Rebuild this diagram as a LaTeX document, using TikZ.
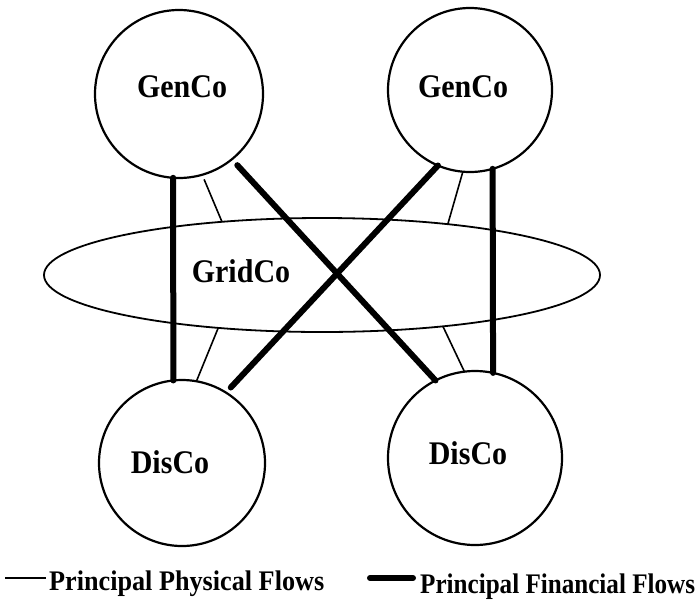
\documentclass[tikz,border=0pt]{standalone}
\usepackage{fontspec}
\setmainfont{Liberation Serif}
\usetikzlibrary{shapes.geometric}
% tall bold lettering used for all labels
\newcommand{\tallword}[2][1.1]{\scalebox{1}[#1]{#2}}
\begin{document}
\begin{tikzpicture}[x=1pt,y=-1pt,
  company/.style={circle, draw, line width=2.2pt, inner sep=0pt, outer sep=0pt},
  lbl/.style={font=\fontsize{30}{36}\selectfont\bfseries, inner sep=0pt},
  fin/.style={line width=6pt, line cap=round},
  phys/.style={line width=1.6pt},
  legend/.style={font=\fontsize{27}{30}\selectfont\bfseries, inner sep=0pt, anchor=base west}]
\useasboundingbox (0,0) rectangle (700,600);

% transmission company
\node[ellipse, draw, line width=1.8pt, minimum width=556pt, minimum height=114pt,
      inner sep=0pt, outer sep=0pt] (grid) at (322,275) {};

% generators and distributors
\node[company, minimum size=168pt] (g1) at (179,94) {};
\node[company, minimum size=164pt] (g2) at (470,90) {};
\node[company, minimum size=166pt] (d1) at (182,463) {};
\node[company, minimum size=174pt] (d2) at (475,458) {};

\node[lbl] (g1t) at (182,87) {\tallword{GenCo}};
\node[lbl] (g2t) at (463,87) {\tallword{GenCo}};
\node[lbl] (gridt) at (241,271) {\tallword{GridCo}};
\node[lbl] (d1t) at (170,462) {\tallword{DisCo}};
\node[lbl] (d2t) at (468,453) {\tallword{DisCo}};

% financial flows
\draw[fin] (g1.266) -- (d1.96);
\draw[fin] (g2.286) -- (d2.78);
\draw[fin, shorten <=8pt] (g1.309) -- (d2.117);
\draw[fin, shorten >=7pt] (g2.247) -- (d1.58);

% physical flows
\draw[phys, shorten <=5pt] (g1.286) -- (grid.152.8);
\draw[phys] (g2.265) -- (grid.22);
\draw[phys] (grid.207.2) -- (d1.80);
\draw[phys] (grid.337) -- (d2.97);

% legend
\coordinate (p0) at (5,578);
\coordinate (p1) at (46,578);
\draw[phys] (p0) -- (p1);
\node[legend] (ptext) at (49,590) {\scalebox{0.97}[1.05]{Principal Physical Flows}};
\coordinate (f0) at (370,578);
\coordinate (f1) at (413,578);
\draw[fin] (f0) -- (f1);
\node[legend] (ftext) at (420,593) {\scalebox{0.93}[1.05]{Principal Financial Flows}};
\end{tikzpicture}
\end{document}
